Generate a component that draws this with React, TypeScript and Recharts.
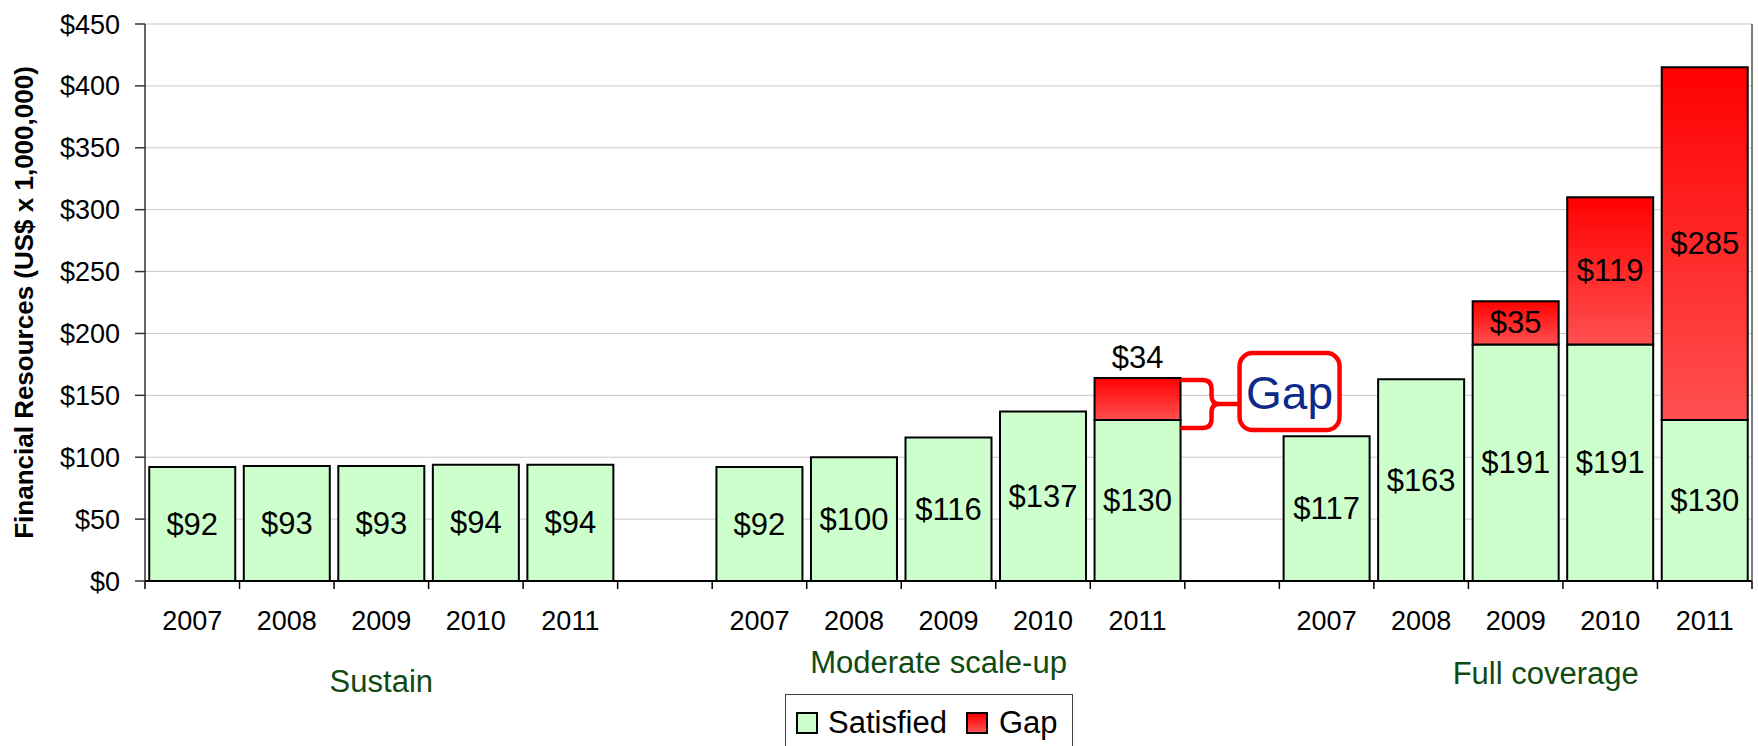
import React from "react";
import { BarChart, Bar, XAxis, YAxis, CartesianGrid, LabelList, Label } from "recharts";

// ---------- data ----------
const years = ["2007", "2008", "2009", "2010", "2011"];
const scenarios = ["Sustain", "Moderate scale-up", "Full coverage"];
const sustainSatisfied = [92, 93, 93, 94, 94];
const sustainGap: (number | null)[] = [null, null, null, null, null];
const moderateSatisfied = [92, 100, 116, 137, 130];
const moderateGap: (number | null)[] = [null, null, null, null, 34];
const fullSatisfied = [117, 163, 191, 191, 130];
const fullGap: (number | null)[] = [null, null, 35, 119, 285];
const yTicks = [0, 50, 100, 150, 200, 250, 300, 350, 400, 450];
const seriesNames = ["Satisfied", "Gap"];
const calloutText = "Gap";
const calloutCategory = "Moderate scale-up 2011";
const yAxisTitle = "Financial Resources (US$ x 1,000,000)";

type Row = { key: string; year: string; scenario: string; satisfied: number | null; gap: number | null };

const satisfiedByScenario = [sustainSatisfied, moderateSatisfied, fullSatisfied];
const gapByScenario = [sustainGap, moderateGap, fullGap];

const data: Row[] = [];
scenarios.forEach((s, gi) => {
  if (gi > 0) data.push({ key: `spacer-${gi}`, year: "", scenario: "", satisfied: null, gap: null });
  years.forEach((y, i) =>
    data.push({ key: `${s} ${y}`, year: y, scenario: s, satisfied: satisfiedByScenario[gi][i], gap: gapByScenario[gi][i] })
  );
});

// ---------- layout / style ----------
const W = 1758;
const H = 746;
const MARGIN = { top: 24, right: 5, bottom: 65, left: 0 };
const LEFT_AXIS_W = 145;
const RIGHT_AXIS_W = 1;
const X_AXIS_H = 100;
const PLOT_W = W - MARGIN.left - MARGIN.right - LEFT_AXIS_W - RIGHT_AXIS_W;
const HALF_BAND = PLOT_W / data.length / 2;
const FONT = "'Liberation Sans', Arial, Helvetica, sans-serif";
const GREEN = "#ccffcc";
const RED = "#ff0000";
const GROUP_COLOR = "#0f4a10";
const VALUE_FONT = 31;
const groupLabelOffset: Record<string, { dx: number; dy: number }> = {
  Sustain: { dx: 0, dy: 100 },
  "Moderate scale-up": { dx: -10, dy: 81 },
  "Full coverage": { dx: 30, dy: 92 },
};

const XTick = (props: any) => {
  const { x, y, payload } = props;
  const idx = data.findIndex((d) => d.key === payload?.value);
  const row = data[idx];
  const isLast = idx === data.length - 1;
  const isMiddle = row && row.year === years[2];
  const off = row ? groupLabelOffset[row.scenario] : undefined;
  return (
    <g>
      <line x1={x - HALF_BAND} x2={x - HALF_BAND} y1={y} y2={y + 8} stroke="#000" strokeWidth={1.5} />
      {isLast && <line x1={x + HALF_BAND} x2={x + HALF_BAND} y1={y} y2={y + 8} stroke="#000" strokeWidth={1.5} />}
      {row && row.year && (
        <text x={x} y={y + 40} textAnchor="middle" dominantBaseline="central" fontSize={27} fontFamily={FONT} fill="#000">
          {row.year}
        </text>
      )}
      {isMiddle && off && (
        <text
          x={x + off.dx}
          y={y + off.dy}
          textAnchor="middle"
          dominantBaseline="central"
          fontSize={31}
          fontFamily={FONT}
          fill={GROUP_COLOR}
        >
          {row.scenario}
        </text>
      )}
    </g>
  );
};

const getBox = (props: any) => {
  const vb = props.viewBox && props.viewBox.width != null ? props.viewBox : props;
  return { x: Number(vb.x), y: Number(vb.y), width: Number(vb.width), height: Number(vb.height) };
};

const SatisfiedLabel = (props: any) => {
  const { value } = props;
  if (value == null) return null;
  const { x, y, width, height } = getBox(props);
  return (
    <text x={x + width / 2} y={y + height / 2} textAnchor="middle" dominantBaseline="central" fontSize={VALUE_FONT} fontFamily={FONT} fill="#000">
      {`$${value}`}
    </text>
  );
};

// value of this label list is the row key, so the callout can be found reliably
const GapLabel = (props: any) => {
  const { value } = props;
  const row = data.find((d) => d.key === value);
  if (!row || row.gap == null) return null;
  const { x, y, width, height } = getBox(props);
  const cx = x + width / 2;
  if (row.key === calloutCategory) {
    const xr = x + width;
    const yT = y + 2;
    const yB = y + height + 8;
    const ym = (yT + yB) / 2;
    const bx = xr + 31;
    const boxX = xr + 59;
    const d = [
      `M ${xr} ${yT}`,
      `L ${bx - 9} ${yT}`,
      `Q ${bx} ${yT} ${bx} ${yT + 9}`,
      `L ${bx} ${ym - 8}`,
      `Q ${bx} ${ym} ${bx + 8} ${ym}`,
      `L ${boxX} ${ym}`,
      `M ${bx + 8} ${ym}`,
      `Q ${bx} ${ym} ${bx} ${ym + 8}`,
      `L ${bx} ${yB - 9}`,
      `Q ${bx} ${yB} ${bx - 9} ${yB}`,
      `L ${xr} ${yB}`,
    ].join(" ");
    return (
      <g>
        <text x={cx} y={y - 21} textAnchor="middle" dominantBaseline="central" fontSize={VALUE_FONT} fontFamily={FONT} fill="#000">
          {`$${row.gap}`}
        </text>
        <path d={d} stroke={RED} strokeWidth={4.5} fill="none" strokeLinejoin="round" />
        <rect x={boxX} y={ym - 51} width={100} height={77} rx={13} ry={13} fill="#fff" stroke={RED} strokeWidth={4.5} />
        <text x={boxX + 50} y={ym - 11} textAnchor="middle" dominantBaseline="central" fontSize={46} fontFamily={FONT} fill="#0d2a8a">
          {calloutText}
        </text>
      </g>
    );
  }
  return (
    <text x={cx} y={y + height / 2} textAnchor="middle" dominantBaseline="central" fontSize={VALUE_FONT} fontFamily={FONT} fill="#000">
      {`$${row.gap}`}
    </text>
  );
};

const YTitle = (props: any) => {
  const vb = props.viewBox || {};
  const cy = (vb.y ?? MARGIN.top) + (vb.height ?? 557) / 2;
  const cx = 24;
  return (
    <text
      x={cx}
      y={cy}
      transform={`rotate(-90 ${cx} ${cy})`}
      textAnchor="middle"
      dominantBaseline="central"
      fontSize={26}
      fontWeight="bold"
      fontFamily={FONT}
      fill="#000"
    >
      {yAxisTitle}
    </text>
  );
};

const LegendBox = () => (
  <div
    style={{
      position: "absolute",
      left: 785,
      top: 694,
      width: 288,
      height: 52,
      border: "1.5px solid #444",
      borderBottom: "none",
      boxSizing: "border-box",
      background: "#fff",
      fontFamily: FONT,
      fontSize: 31,
      color: "#000",
    }}
  >
    <div style={{ position: "absolute", left: 10, top: 17, width: 22, height: 22, boxSizing: "border-box", border: "2px solid #000", background: GREEN }} />
    <div style={{ position: "absolute", left: 42, top: 11, lineHeight: "34px", whiteSpace: "nowrap" }}>{seriesNames[0]}</div>
    <div
      style={{
        position: "absolute",
        left: 180,
        top: 17,
        width: 22,
        height: 22,
        boxSizing: "border-box",
        border: "2px solid #000",
        background: "linear-gradient(#ff0000, #ff5050)",
      }}
    />
    <div style={{ position: "absolute", left: 213, top: 11, lineHeight: "34px", whiteSpace: "nowrap" }}>{seriesNames[1]}</div>
  </div>
);

export default function App() {
  return (
    <div style={{ position: "absolute", left: 0, top: 0, width: W, height: H, overflow: "hidden", background: "#fff" }}>
      <BarChart width={W} height={H} data={data} margin={MARGIN} barCategoryGap="4.5%">
        <defs>
          <linearGradient id="gapGrad" x1="0" y1="0" x2="0" y2="1">
            <stop offset="0%" stopColor="#ff0000" />
            <stop offset="100%" stopColor="#ff5050" />
          </linearGradient>
        </defs>
        <CartesianGrid vertical={false} stroke="#c8c8c8" strokeWidth={1} yAxisId="left" />
        <XAxis
          dataKey="key"
          interval={0}
          height={X_AXIS_H}
          tickLine={false}
          tickSize={0}
          tickMargin={0}
          axisLine={{ stroke: "#000", strokeWidth: 2 }}
          tick={<XTick />}
        />
        <YAxis
          yAxisId="left"
          width={LEFT_AXIS_W}
          domain={[0, 450]}
          ticks={yTicks}
          interval={0}
          tickFormatter={(v: number) => `$${v}`}
          tickSize={10}
          tickMargin={15}
          axisLine={{ stroke: "#333", strokeWidth: 1.5 }}
          tickLine={{ stroke: "#333", strokeWidth: 1.5 }}
          tick={{ fontSize: 27, fill: "#000", fontFamily: FONT }}
        >
          <Label content={<YTitle />} position="insideLeft" />
        </YAxis>
        <YAxis
          yAxisId="right"
          orientation="right"
          width={RIGHT_AXIS_W}
          tick={false}
          tickLine={false}
          axisLine={{ stroke: "#555", strokeWidth: 1.5 }}
        />
        <Bar dataKey="satisfied" name={seriesNames[0]} stackId="a" yAxisId="left" fill={GREEN} stroke="#000" strokeWidth={2} isAnimationActive={false}>
          <LabelList dataKey="satisfied" content={<SatisfiedLabel />} />
        </Bar>
        <Bar dataKey="gap" name={seriesNames[1]} stackId="a" yAxisId="left" fill="url(#gapGrad)" stroke="#000" strokeWidth={2} isAnimationActive={false}>
          <LabelList dataKey={(d: Row) => (d.gap == null ? null : d.key)} content={<GapLabel />} />
        </Bar>
      </BarChart>
      <LegendBox />
    </div>
  );
}
